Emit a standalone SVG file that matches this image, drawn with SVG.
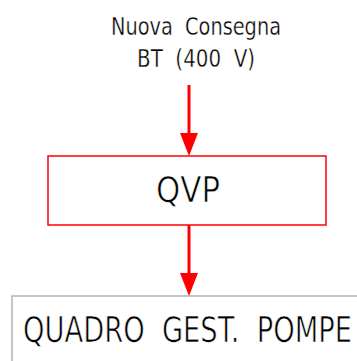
<svg xmlns="http://www.w3.org/2000/svg" width="357" height="361" viewBox="0 0 357 361">
<style>
.t{font-family:"Liberation Sans Narrow","DejaVu Sans Condensed","Liberation Sans",sans-serif;fill:#000;stroke:#fff;stroke-width:0.7}
.s{stroke-width:0.35}
.c{stroke:#ff0000;stroke-width:3;fill:none}
.h{fill:#ff0000}
</style>
<rect width="357" height="361" fill="#fff"/>
<g id="label-source">
<text class="t s" x="196" y="35" font-size="25" text-anchor="middle" textLength="170" lengthAdjust="spacingAndGlyphs" xml:space="preserve">Nuova  Consegna</text>
<text class="t s" x="196" y="67" font-size="25" text-anchor="middle" textLength="118" lengthAdjust="spacingAndGlyphs" xml:space="preserve">BT  (400  V)</text>
</g>
<g id="node-qvp">
<rect x="48" y="156" width="278" height="69" fill="none" stroke="#ff0000" stroke-width="1.5"/>
<text class="t" x="188" y="202" font-size="35" text-anchor="middle" textLength="64" lengthAdjust="spacingAndGlyphs">QVP</text>
</g>
<g id="node-quadro">
<rect x="12" y="296" width="360" height="80" fill="none" stroke="#a0a0a0" stroke-width="1.2"/>
<text class="t" x="23" y="342" font-size="36" textLength="329" lengthAdjust="spacingAndGlyphs" xml:space="preserve">QUADRO  GEST.  POMPE</text>
</g>
<g id="connectors">
<line class="c" x1="189" y1="85" x2="189" y2="134"/>
<polygon class="h" points="180,133 198,133 189,156"/>
<line class="c" x1="189" y1="225" x2="189" y2="274"/>
<polygon class="h" points="180,273 198,273 189,296"/>
</g>
</svg>
